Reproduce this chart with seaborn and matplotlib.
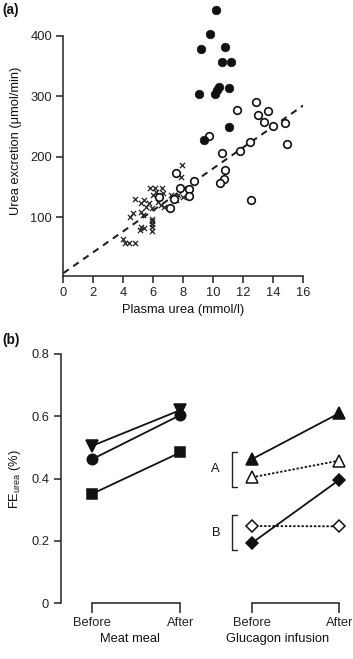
import numpy as np
import pandas as pd
import matplotlib
matplotlib.use("Agg")
import matplotlib.pyplot as plt
import seaborn as sns

# ---------------- Data: panel (a) ----------------
cross_x = [4.0, 4.1, 4.4, 4.75, 4.45, 4.65, 4.8, 5.2, 5.3, 5.2, 5.35, 5.1, 5.2, 5.35,
           5.7, 5.9, 5.9, 5.9, 5.9, 5.9, 5.9, 5.8, 6.1, 6.55, 6.2, 6.0, 6.65, 6.5,
           6.7, 7.2, 7.65, 7.5, 8.0, 7.85, 7.9, 5.5, 6.3]
cross_y = [65, 58, 58, 58, 101, 107, 130, 109, 104, 123, 128, 79, 85, 82,
           123, 115, 98, 94, 89, 84, 78, 149, 149, 149, 142, 137, 140, 121,
           118, 137, 137, 129, 133, 166, 187, 117, 125]

open_x = [9.7, 11.55, 12.85, 13.0, 13.65, 13.4, 13.95, 14.8, 14.9, 12.45, 11.8, 10.6,
          10.75, 10.7, 10.45, 12.5, 8.7, 8.4, 8.35, 7.75, 7.5, 7.4, 7.1, 6.35]
open_y = [235, 277, 291, 269, 275, 257, 251, 255, 221, 224, 210, 206,
          178, 164, 157, 129, 160, 147, 136, 149, 173, 130, 116, 133]

filled_x = [10.2, 9.8, 9.15, 10.8, 10.55, 11.2, 9.05, 10.1, 10.25, 10.4, 11.05, 11.05, 9.4]
filled_y = [442, 403, 378, 382, 356, 356, 303, 304, 311, 316, 314, 250, 228]

reg_intercept = 8.0
reg_slope = 17.3
reg_x = np.array([0.0, 16.0])

# ---------------- Data: panel (b) ----------------
phases = ["Before", "After"]
meat_tri_down = [0.505, 0.620]
meat_circle = [0.462, 0.604]
meat_square = [0.351, 0.484]
gluc_A_filled = [0.462, 0.610]
gluc_A_open = [0.404, 0.458]
gluc_B_filled = [0.193, 0.396]
gluc_B_open = [0.248, 0.247]

# ---------------- Style ----------------
sns.set_style("ticks")
plt.rcParams["font.family"] = ["Liberation Sans", "DejaVu Sans"]
plt.rcParams["mathtext.default"] = "regular"
FS = 9.3
LW = 1.1
plt.rcParams.update({
    "axes.linewidth": LW,
    "xtick.major.width": LW,
    "ytick.major.width": LW,
    "xtick.major.size": 5,
    "ytick.major.size": 5,
    "xtick.labelsize": FS,
    "ytick.labelsize": FS,
    "axes.labelsize": FS,
    "axes.edgecolor": "#222222",
    "xtick.color": "#222222",
    "ytick.color": "#222222",
    "text.color": "#111111",
    "axes.labelcolor": "#111111",
})

W, H = 353, 659
fig = plt.figure(figsize=(W / 100, H / 100), dpi=100)

def frac(left, top, right, bottom):
    return [left / W, 1 - bottom / H, (right - left) / W, (bottom - top) / H]

# ---------------- Panel (a) ----------------
axa = fig.add_axes(frac(63.3, 5.3, 303.3, 275.6))
sns.lineplot(x=reg_x, y=reg_intercept + reg_slope * reg_x, ax=axa, color="#222222",
             linewidth=1.5, linestyle=(0, (3.2, 2.6)))
sns.scatterplot(x=cross_x, y=cross_y, ax=axa, marker="x", color="#222222", s=14,
                linewidth=0.9, zorder=3)
sns.scatterplot(x=open_x, y=open_y, ax=axa, marker="o", color="white",
                edgecolor="#111111", s=30, linewidth=1.2, zorder=3)
sns.scatterplot(x=filled_x, y=filled_y, ax=axa, marker="o", color="#111111",
                edgecolor="#111111", s=38, linewidth=0.5, zorder=4, clip_on=False)
axa.set_xlim(0, 16)
axa.set_ylim(4, 450)
axa.set_xticks(range(0, 17, 2))
axa.set_yticks([100, 200, 300, 400])
sns.despine(ax=axa)
axa.spines["left"].set_bounds(4, 400)
axa.set_xlabel("Plasma urea (mmol/l)", labelpad=4)
axa.set_ylabel("Urea excretion (\u03bcmol/min)", labelpad=6)
axa.tick_params(pad=3)
fig.text(2 / W, 1 - 10 / H, "(a)", fontsize=FS + 0.5, fontweight="bold", va="center", ha="left")

# ---------------- Panel (b) ----------------
ax1 = fig.add_axes(frac(61.0, 354.0, 198.0, 603.3))
ax2 = fig.add_axes(frac(203.5, 354.0, 352.4, 603.3))
xpos = [0, 1]

def series(ax, vals, marker, filled, ls, ms):
    sns.lineplot(x=xpos, y=vals, ax=ax, color="#111111", linewidth=1.3, linestyle=ls,
                 marker=marker, markersize=ms,
                 markerfacecolor="#111111" if filled else "white",
                 markeredgecolor="#111111", markeredgewidth=1.1, clip_on=False)

series(ax1, meat_tri_down, "v", True, "-", 8)
series(ax1, meat_circle, "o", True, "-", 7.5)
series(ax1, meat_square, "s", True, "-", 6.5)
series(ax2, gluc_A_filled, "^", True, "-", 8)
series(ax2, gluc_A_open, "^", False, (0, (1.3, 1.0)), 8)
series(ax2, gluc_B_filled, "D", True, "-", 6.5)
series(ax2, gluc_B_open, "D", False, (0, (1.3, 1.0)), 6.5)

for ax, xl, lab in [(ax1, (-0.35, 1.2), "Meat meal"), (ax2, (-0.55, 1.15), "Glucagon infusion")]:
    ax.set_xlim(*xl)
    ax.set_ylim(0, 0.8)
    ax.set_xticks(xpos)
    ax.set_xticklabels(phases)
    ax.tick_params(axis="x", length=7, pad=3)
    ax.spines["bottom"].set_bounds(0, 1)
    ax.set_xlabel(lab, labelpad=3)
    ax.spines["top"].set_visible(False)
    ax.spines["right"].set_visible(False)

ax1.set_yticks([0, 0.2, 0.4, 0.6, 0.8])
ax1.set_yticklabels(["0", "0.2", "0.4", "0.6", "0.8"])
ax1.set_ylabel("FE$_{urea}$ (%)", labelpad=6)
ax2.spines["left"].set_visible(False)
ax2.set_yticks([])
ax2.set_ylabel("")

# group brackets A and B
for lo, hi, lab in [(0.372, 0.487, "A"), (0.171, 0.283, "B")]:
    xb, xe = -0.228, -0.165
    ax2.plot([xe, xb, xb, xe], [hi, hi, lo, lo], color="#222222", linewidth=1.0, clip_on=False)
    ax2.text(-0.41, (lo + hi) / 2, lab, fontsize=FS, ha="center", va="center")

fig.text(2 / W, 1 - 340 / H, "(b)", fontsize=FS + 0.5, fontweight="bold", va="center", ha="left")

fig.savefig("out.png", dpi=100)
